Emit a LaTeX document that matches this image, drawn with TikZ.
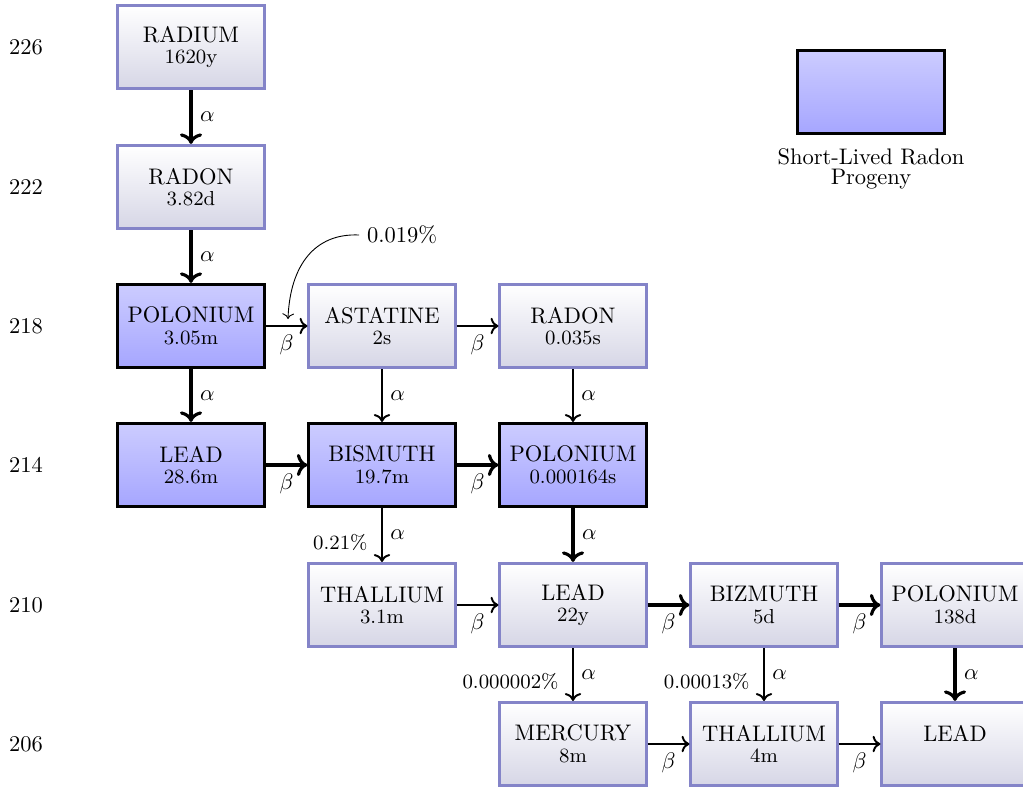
\documentclass[tikz,border=0pt]{standalone}
\usetikzlibrary{arrows.meta}
\definecolor{frame}{RGB}{132,132,200}
\definecolor{paleend}{RGB}{214,214,230}
\tikzset{
  iso/.style={draw=frame, line width=1.3pt, top color=white, bottom color=paleend,
    minimum width=65pt, minimum height=37pt, align=center, inner sep=2pt},
  short/.style={iso, draw=black, top color=blue!20, bottom color=blue!35},
  mainarrow/.style={->, line width=1.4pt},
  sidearrow/.style={->, line width=0.85pt},
  pct/.style={font=\small, anchor=east, inner sep=3pt, xshift=-3pt},
  mass/.style={anchor=center},
}
\newcommand{\iso}[2]{#1\\[-2.4pt]{\small #2}}
\begin{document}
\begin{tikzpicture}[x=0.4444pt, y=-0.4444pt]
\useasboundingbox (0,0) rectangle (1023,789);

% mass numbers
\node[mass] (m226) at (26,47) {226};
\node[mass] (m222) at (26,187) {222};
\node[mass] (m218) at (26,326) {218};
\node[mass] (m214) at (26,465) {214};
\node[mass] (m210) at (26,605) {210};
\node[mass] (m206) at (26,744) {206};

% nuclides
\node[iso]   (ra226) at (191,47)  {\iso{RADIUM}{1620y}};
\node[iso]   (rn222) at (191,187) {\iso{RADON}{3.82d}};
\node[short] (po218) at (191,326) {\iso{POLONIUM}{3.05m}};
\node[iso]   (at218) at (382,326) {\iso{ASTATINE}{2s}};
\node[iso]   (rn218) at (573,326) {\iso{RADON}{0.035s}};
\node[short] (pb214) at (191,465) {\iso{LEAD}{28.6m}};
\node[short] (bi214) at (382,465) {\iso{BISMUTH}{19.7m}};
\node[short] (po214) at (573,465) {\iso{POLONIUM}{0.000164s}};
\node[iso]   (tl210) at (382,605) {\iso{THALLIUM}{3.1m}};
\node[iso]   (pb210) at (573,605) {\iso{LEAD}{22y}};
\node[iso]   (bi210) at (764,605) {\iso{BIZMUTH}{5d}};
\node[iso]   (po210) at (955,605) {\iso{POLONIUM}{138d}};
\node[iso]   (hg206) at (573,744) {\iso{MERCURY}{8m}};
\node[iso]   (tl206) at (764,744) {\iso{THALLIUM}{4m}};
\node[iso]   (pb206) at (955,744) {\iso{LEAD}{\phantom{0}}};

% main decay chain
\draw[mainarrow] (ra226) -- node[right] {$\alpha$} (rn222);
\draw[mainarrow] (rn222) -- node[right] {$\alpha$} (po218);
\draw[mainarrow] (po218) -- node[right] {$\alpha$} (pb214);
\draw[mainarrow] (pb214) -- node[below] {$\beta$} (bi214);
\draw[mainarrow] (bi214) -- node[below] {$\beta$} (po214);
\draw[mainarrow] (po214) -- node[right] {$\alpha$} (pb210);
\draw[mainarrow] (pb210) -- node[below] {$\beta$} (bi210);
\draw[mainarrow] (bi210) -- node[below] {$\beta$} (po210);
\draw[mainarrow] (po210) -- node[right] {$\alpha$} (pb206);

% minor branches
\draw[sidearrow] (po218) -- node[below] {$\beta$} (at218);
\draw[sidearrow] (at218) -- node[below] {$\beta$} (rn218);
\draw[sidearrow] (at218) -- node[right] {$\alpha$} (bi214);
\draw[sidearrow] (rn218) -- node[right] {$\alpha$} (po214);
\draw[sidearrow] (bi214) -- node[right] {$\alpha$} node[pct, pos=0.63] {0.21\%} (tl210);
\draw[sidearrow] (tl210) -- node[below] {$\beta$} (pb210);
\draw[sidearrow] (pb210) -- node[right] {$\alpha$} node[pct, pos=0.63] {0.000002\%} (hg206);
\draw[sidearrow] (bi210) -- node[right] {$\alpha$} node[pct, pos=0.63] {0.00013\%} (tl206);
\draw[sidearrow] (hg206) -- node[below] {$\beta$} (tl206);
\draw[sidearrow] (tl206) -- node[below] {$\beta$} (pb206);

% branching ratio of polonium-218
\node (frac) at (402,235) {0.019\%};
\coordinate (fractip) at (288,319);
\draw[->, thin] (frac.west) .. controls (315,233) and (290,265) .. (fractip);

% legend
\node[short] (key) at (871,92) {};
\node[align=center] (keytext) at (871,169) {Short-Lived Radon\\[-3.1pt]Progeny};
\end{tikzpicture}
\end{document}
